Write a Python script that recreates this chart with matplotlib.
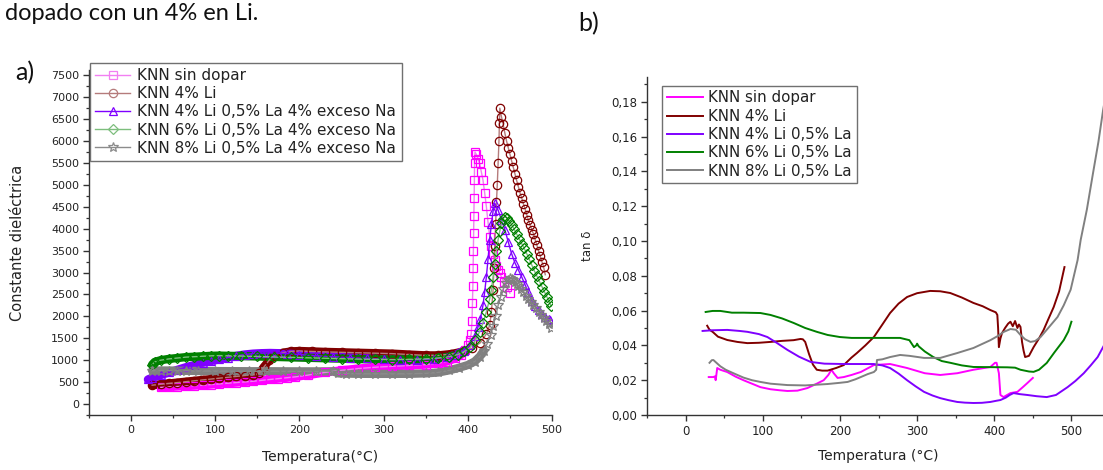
import numpy as np
import matplotlib
matplotlib.use("Agg")
import matplotlib.pyplot as plt
from matplotlib.ticker import MultipleLocator, FuncFormatter

# ---------------- data: panel a) dielectric constant ----------------
labels_a = ["KNN sin dopar", "KNN 4% Li", "KNN 4% Li 0,5% La 4% exceso Na",
            "KNN 6% Li 0,5% La 4% exceso Na", "KNN 8% Li 0,5% La 4% exceso Na"]

t_sin = [35, 45, 55, 65, 75, 85, 95, 105, 115, 125, 135, 145, 155, 165, 175, 185, 195, 210, 230, 250,
         270, 290, 310, 330, 350, 365, 375, 385, 392, 397, 400, 402, 404,
         405, 405.5, 406, 406.3, 406.6, 406.9, 407.2, 407.5, 407.8, 408, 408.5,
         410, 412, 414, 416, 418, 420, 422, 424, 426, 428, 430, 432, 434, 436, 438, 440, 443, 446, 450]
e_sin = [380, 390, 400, 410, 420, 430, 445, 460, 475, 490, 505, 520, 540, 560, 580, 600, 620, 660, 720, 770,
         810, 840, 860, 880, 900, 930, 970, 1040, 1120, 1230, 1340, 1450, 1600,
         1900, 2300, 2700, 3100, 3500, 3900, 4300, 4700, 5100, 5500, 5750,
         5700, 5600, 5490, 5300, 5110, 4820, 4510, 4150, 3820, 3600, 3420, 3280, 3150, 3060, 2980, 2900, 2780, 2680, 2530]

t_li4 = [25, 35, 45, 55, 65, 75, 85, 95, 105, 115, 125, 135, 145, 152, 158, 164, 170, 180, 190, 200,
         215, 230, 250, 270, 290, 310, 330, 350, 365, 380, 395, 405, 415, 422, 426,
         428, 430, 431, 432, 433, 434, 435, 436, 437, 437.5, 438,
         440, 442, 444, 446, 448, 450, 452, 454, 456, 458, 460, 462, 464, 466, 468, 470, 472, 474, 476,
         478, 480, 482, 484, 486, 488, 490, 492]
e_li4 = [430, 450, 470, 490, 510, 530, 550, 570, 590, 610, 630, 650, 670, 700, 850, 1000, 1100, 1170, 1200, 1210,
         1200, 1190, 1180, 1170, 1160, 1150, 1130, 1110, 1110, 1140, 1200, 1270, 1400, 1600, 1800,
         2100, 2600, 3100, 3600, 4100, 4600, 5000, 5500, 6000, 6400, 6750,
         6550, 6380, 6180, 6000, 5850, 5700, 5550, 5400, 5250, 5100, 4960, 4820, 4700, 4570, 4450, 4320, 4190, 4080, 3980,
         3880, 3750, 3630, 3500, 3380, 3250, 3130, 2950]

t_li4la = [20, 25, 35, 45, 55, 65, 75, 85, 95, 105, 115, 125, 135, 145, 155, 165, 175, 185, 200, 220,
           240, 260, 280, 300, 320, 340, 360, 375, 385, 395, 402, 408, 412, 415, 418, 420, 422, 424, 426,
           428, 430, 432, 436, 440, 444, 448, 452, 456, 460, 464, 468, 472, 476, 480, 484, 488, 492, 496, 498]
e_li4la = [560, 600, 660, 720, 780, 840, 890, 940, 980, 1020, 1060, 1100, 1130, 1150, 1160, 1165, 1160, 1150, 1130, 1100,
           1080, 1060, 1040, 1020, 1010, 1010, 1030, 1070, 1120, 1220, 1350, 1550, 1750, 1950, 2250, 2550, 2900, 3300, 3750,
           4100, 4400, 4580, 4420, 4200, 3980, 3700, 3430, 3220, 3060, 2900, 2720, 2550, 2350, 2230, 2140, 2060, 1990, 1940, 1915]

t_li6la = [25, 28, 35, 45, 55, 65, 75, 85, 95, 105, 115, 130, 150, 170, 190, 210, 230, 250, 270, 290,
           310, 330, 350, 365, 378, 388, 396, 403, 409, 414, 418, 422, 426, 428, 430, 432, 434, 436, 438,
           440, 442, 444, 446, 449, 452, 455, 458, 461, 464, 467, 470, 473, 476, 479, 482, 485, 488, 491,
           494, 497, 499]
e_li6la = [900, 960, 1000, 1030, 1050, 1070, 1080, 1090, 1100, 1105, 1100, 1095, 1085, 1075, 1065, 1055, 1045, 1035, 1025, 1020,
           1015, 1020, 1030, 1050, 1080, 1130, 1200, 1300, 1450, 1650, 1850, 2100, 2400, 2600, 2900, 3200, 3500, 3750, 3950,
           4120, 4230, 4270, 4250, 4180, 4090, 3990, 3880, 3770, 3660, 3550, 3430, 3300, 3170, 3040, 2920, 2800, 2680, 2560,
           2440, 2320, 2230]

t_li8la = [25, 35, 45, 55, 65, 80, 100, 120, 140, 160, 180, 200, 220, 240, 246, 255, 270, 290, 310, 330,
           350, 365, 378, 390, 400, 408, 414, 419, 423, 427, 430, 433, 436, 439, 442, 445, 448, 450,
           452, 454, 456, 458, 460, 463, 466, 469, 472, 475, 478, 481, 484, 487, 490, 493, 496, 499]
e_li8la = [760, 765, 765, 760, 758, 755, 752, 750, 748, 748, 746, 745, 745, 745, 700, 695, 690, 688, 688, 690,
           700, 720, 770, 830, 890, 970, 1080, 1220, 1380, 1580, 1780, 2000, 2250, 2450, 2620, 2750, 2840, 2870,
           2860, 2830, 2790, 2740, 2690, 2620, 2550, 2470, 2400, 2330, 2260, 2190, 2110, 2040, 1970, 1890, 1820, 1740]

# ---------------- data: panel b) tan delta ----------------
labels_b = ["KNN sin dopar", "KNN 4% Li", "KNN 4% Li 0,5% La", "KNN 6% Li 0,5% La", "KNN 8% Li 0,5% La"]

tb_sin = [30, 36, 38, 39, 41, 45, 54, 65, 75, 86, 97, 110, 122, 132, 145, 158, 170, 179, 185, 189, 192, 197,
          205, 215, 227, 244, 265, 287, 310, 330, 352, 373, 395, 401, 403, 406, 408, 412, 421, 430, 437, 443, 450]
d_sin = [.0218, .0218, .0222, .020, .027, .026, .0247, .022, .020, .018, .016, .0148, .0142, .0138, .014, .0155,
         .018, .020, .023, .026, .024, .0213, .0218, .023, .0247, .0287, .0293, .027, .024, .023, .024, .026, .0276,
         .030, .030, .024, .0115, .0103, .0126, .0133, .016, .0184, .0213]

tb_li4 = [28, 31, 35, 42, 54, 67, 80, 95, 110, 125, 140, 149, 152, 155, 160, 165, 170, 177, 184, 195, 205, 215,
          222, 233, 244, 255, 265, 276, 287, 300, 317, 330, 343, 358, 373, 385, 395, 402, 404, 405, 406, 408, 410,
          414, 418, 421, 424, 427, 430, 432, 434, 436, 438, 440, 445, 451, 458, 464, 470, 477, 484, 490, 491]
d_li4 = [.0513, .049, .0478, .045, .0431, .042, .0413, .0415, .042, .0426, .043, .0437, .0435, .042, .035, .029,
         .026, .0255, .0255, .027, .0287, .033, .0356, .040, .0448, .052, .0586, .064, .0678, .070, .0713, .0711,
         .0701, .0675, .0644, .0625, .0603, .059, .0575, .050, .039, .044, .047, .050, .0525, .0536, .051, .054,
         .050, .052, .0506, .042, .037, .0333, .034, .039, .044, .0489, .055, .062, .071, .083, .085]

tb_li4la = [22, 35, 54, 70, 80, 95, 106, 118, 132, 147, 162, 180, 205, 225, 244, 248, 255, 265, 276, 287, 298,
            309, 320, 330, 341, 352, 362, 373, 384, 395, 403, 408, 415, 420, 425, 433, 443, 455, 468, 480, 495,
            505, 516, 525, 534, 541, 548]
d_li4la = [.0483, .0487, .0489, .0483, .0478, .0465, .0448, .0415, .0374, .0335, .0305, .0295, .0293, .0293, .0293,
           .029, .0285, .027, .0238, .020, .0165, .0133, .0112, .0097, .0085, .0075, .0071, .0069, .007, .0075,
           .0082, .0086, .010, .0115, .0126, .012, .0115, .0108, .0103, .0115, .016, .0195, .024, .0285, .0333,
           .039, .045]

tb_li6la = [26, 35, 45, 60, 75, 97, 110, 125, 140, 155, 170, 184, 200, 215, 227, 250, 278, 290, 296, 299, 300,
            302, 310, 321, 332, 343, 358, 373, 395, 417, 427, 434, 445, 451, 458, 468, 478, 490, 496, 500]
d_li6la = [.0592, .0598, .0598, .0588, .0588, .0586, .0575, .0555, .0529, .050, .0478, .046, .0448, .0443, .0443,
           .0443, .0443, .043, .039, .040, .041, .0395, .0365, .0333, .031, .030, .0285, .0276, .0275, .0274, .0272,
           .026, .025, .0248, .026, .0299, .036, .043, .048, .0536]

tb_li8la = [31, 34, 36, 40, 45, 52, 62, 75, 86, 97, 110, 132, 155, 184, 200, 210, 220, 227, 236, 244, 247, 248,
            255, 265, 278, 290, 309, 330, 352, 373, 395, 405, 412, 421, 428, 434, 440, 447, 453, 460, 470, 482,
            490, 499, 508, 512, 520, 528, 535, 541, 548]
d_li8la = [.030, .0315, .0316, .030, .028, .026, .024, .0215, .020, .019, .018, .0172, .017, .0178, .0185, .019,
           .0205, .0218, .0235, .0247, .026, .0316, .032, .0333, .0345, .034, .0328, .0328, .0356, .0385, .043,
           .0455, .0477, .0494, .049, .046, .0435, .042, .0425, .0448, .050, .0563, .063, .072, .089, .1006, .118,
           .139, .157, .175, .193]

xticks = [0, 100, 200, 300, 400, 500]

# ---------------- styling ----------------
W, H = 1103, 470
fig = plt.figure(figsize=(W / 100, H / 100), dpi=100)
plt.rcParams['font.family'] = ['DejaVu Sans']

main_cols = ['#FF00FF', '#800000', '#7F00FF', '#008000', '#808080']
light_cols = ['#F27FF2', '#B57B7B', '#7F00FF', '#7DBE7D', '#8C8C8C']
markers = ['s', 'o', '^', 'D', '*']
msizes = [5.5, 6, 6, 5, 7.5]
txtc = '#222222'


def fx(px):
    return px / W


def fy(py):
    return 1 - py / H


def style_axes(ax, lsize):
    for s in ['top', 'right']:
        ax.spines[s].set_visible(False)
    for s in ['left', 'bottom']:
        ax.spines[s].set_linewidth(1.0)
        ax.spines[s].set_color('#333333')
    ax.tick_params(which='major', direction='out', length=4, width=1.0, colors='#333333',
                   labelsize=lsize, labelcolor=txtc, pad=3)
    ax.tick_params(which='minor', direction='out', length=2.3, width=0.9, colors='#333333')


# ---------------- panel a ----------------
ax1 = fig.add_axes([fx(89), fy(415), fx(552 - 89), (415 - 70) / H])
series_a = [(t_sin, e_sin), (t_li4, e_li4), (t_li4la, e_li4la), (t_li6la, e_li6la), (t_li8la, e_li8la)]
for i, (t, e) in enumerate(series_a):
    t = np.asarray(t, float)
    e = np.asarray(e, float)
    band = e < 1250
    ax1.plot(t[band], e[band], color=main_cols[i], lw=6.0, solid_capstyle='round',
             solid_joinstyle='round', zorder=2 + i * 0.1)
    ax1.plot(t, e, color=light_cols[i], lw=1.0, marker=markers[i], ms=msizes[i],
             mfc='none', mec=main_cols[i], mew=0.9, label=labels_a[i], zorder=3 + i * 0.1)

ax1.set_xlim(-50, 500)
ax1.set_ylim(-250, 7620)
ax1.set_xticks(xticks)
ax1.xaxis.set_minor_locator(MultipleLocator(50))
ax1.yaxis.set_major_locator(MultipleLocator(500))
ax1.yaxis.set_minor_locator(MultipleLocator(250))
style_axes(ax1, 8)
ax1.set_xlabel("Temperatura(°C)", fontsize=10, color=txtc)
ax1.set_ylabel("Constante dieléctrica", fontsize=10.5, color=txtc)
ax1.xaxis.set_label_coords(0.5, -0.1)
ax1.yaxis.set_label_coords(-0.138, 0.5)

leg1 = ax1.legend(loc='upper left', bbox_to_anchor=(fx(90), fy(63)),
                  bbox_transform=fig.transFigure, fontsize=11, frameon=True, fancybox=False,
                  edgecolor='#707070', framealpha=1, borderpad=0.35, labelspacing=0.2,
                  handlelength=2.3, handletextpad=0.45, borderaxespad=0, numpoints=1)
leg1.get_frame().set_linewidth(1.0)
for txt in leg1.get_texts():
    txt.set_color(txtc)
for h, c in zip(leg1.legend_handles, light_cols):
    h.set_color(c)
    h.set_markeredgecolor(c)
    h.set_markerfacecolor('none')

# ---------------- panel b ----------------
ax2 = fig.add_axes([fx(647), fy(415), fx(1110 - 647), (415 - 77.4) / H])
series_b = [(tb_sin, d_sin), (tb_li4, d_li4), (tb_li4la, d_li4la), (tb_li6la, d_li6la), (tb_li8la, d_li8la)]
for i, (t, d) in enumerate(series_b):
    ax2.plot(t, d, color=main_cols[i], lw=1.4, label=labels_b[i])

ax2.set_xlim(-50, 550)
ax2.set_ylim(0, 0.194)
ax2.set_xticks(xticks)
ax2.xaxis.set_minor_locator(MultipleLocator(50))
ax2.yaxis.set_major_locator(MultipleLocator(0.02))
ax2.yaxis.set_minor_locator(MultipleLocator(0.01))
ax2.yaxis.set_major_formatter(FuncFormatter(lambda v, p: f"{v:.2f}".replace('.', ',')))
style_axes(ax2, 8.5)
ax2.set_xlabel("Temperatura (°C)", fontsize=10, color=txtc)
ax2.set_ylabel("tan δ", fontsize=8.5, color=txtc)
ax2.xaxis.set_label_coords(0.5, -0.1)
ax2.yaxis.set_label_coords(-0.115, 0.5)

leg2 = ax2.legend(loc='upper left', bbox_to_anchor=(fx(662), fy(86)),
                  bbox_transform=fig.transFigure, fontsize=10.8, frameon=True, fancybox=False,
                  edgecolor='#707070', framealpha=1, borderpad=0.3, labelspacing=0.22,
                  handlelength=2.45, handletextpad=0.35, borderaxespad=0)
leg2.get_frame().set_linewidth(1.0)
for txt in leg2.get_texts():
    txt.set_color(txtc)

# ---------------- surrounding document text ----------------
fig.text(fx(5), fy(20), "dopado con un 4% en Li.", fontsize=17, family='Lato', color='#111111',
         ha='left', va='baseline')
fig.text(fx(578), fy(31), "b)", fontsize=18, family='Lato', color='#111111', ha='left', va='baseline')
fig.text(fx(15), fy(80), "a)", fontsize=18, family='Lato', color='#111111', ha='left', va='baseline')

fig.savefig("out.png", dpi=100)
